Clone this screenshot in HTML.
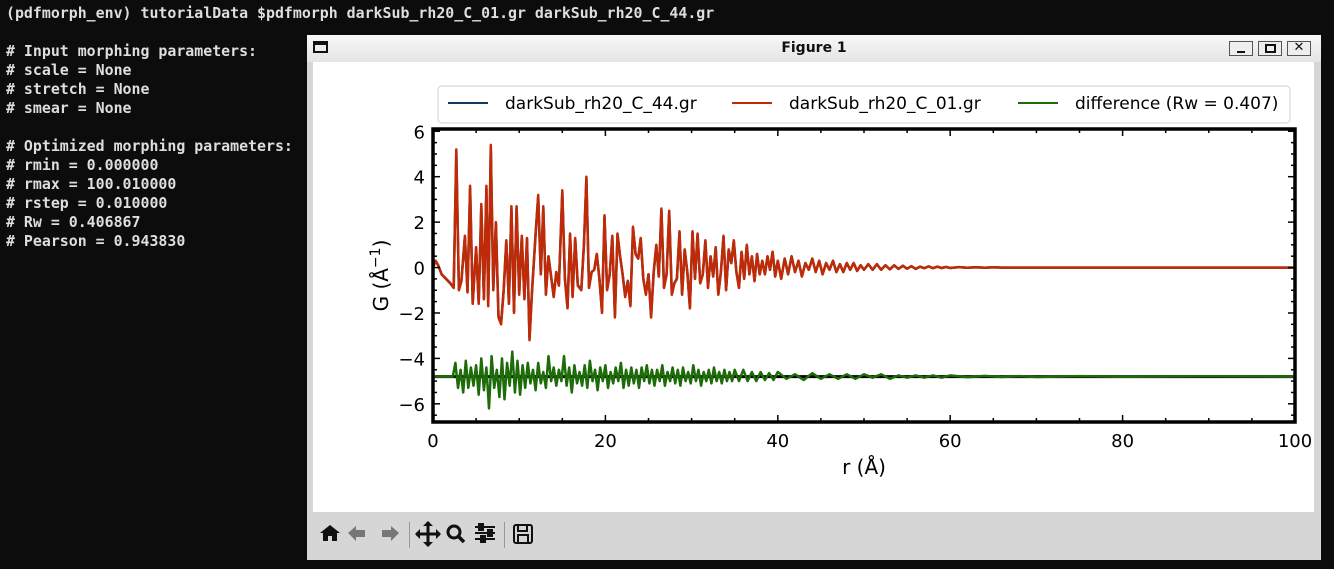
<!DOCTYPE html>
<html><head><meta charset="utf-8">
<style>
html,body{margin:0;padding:0;width:1334px;height:569px;background:#0c0c0c;overflow:hidden;font-family:"DejaVu Sans","Liberation Sans",sans-serif}
#term{position:absolute;left:6px;top:4px;color:#dedede;font:bold 14.9px "DejaVu Sans Mono","Liberation Mono",monospace;line-height:19px;white-space:pre}
#win{position:absolute;left:307px;top:35px;width:1014px;height:525px;background:#d6d6d6}
#title{position:absolute;left:0;top:0;width:1014px;height:27px;background:linear-gradient(#f8f8f8,#e4e4e4);font-weight:bold;font-size:14px;text-align:center;line-height:26px;color:#111}
#fig{position:absolute;left:6px;top:27px;width:1001px;height:450px;background:#fff}
.wb{position:absolute;top:6px;width:24px;height:15px;border:1px solid #555;background:#eee;box-sizing:border-box}
#tb{position:absolute;left:6px;top:477px;height:44px;width:1001px}
</style></head><body>
<div id="term">(pdfmorph_env) tutorialData $pdfmorph darkSub_rh20_C_01.gr darkSub_rh20_C_44.gr

# Input morphing parameters:
# scale = None
# stretch = None
# smear = None

# Optimized morphing parameters:
# rmin = 0.000000
# rmax = 100.010000
# rstep = 0.010000
# Rw = 0.406867
# Pearson = 0.943830</div>
<div id="win">
 <div id="title">Figure 1
  <div style="position:absolute;left:6px;top:6px;width:15px;height:12px;border:2px solid #111;border-top-width:4px;box-sizing:border-box"></div>
  <div class="wb" style="left:922px"><div style="position:absolute;left:7px;top:9px;width:8px;height:2px;background:#111"></div></div>
  <div class="wb" style="left:951px"><div style="position:absolute;left:6px;top:2px;width:11px;height:9px;border:2px solid #111;box-sizing:border-box"></div></div>
  <div class="wb" style="left:980px;font-size:13px;line-height:12px">✕</div>
 </div>
 <div id="fig"></div>
 <div id="tb">
  <svg width="300" height="44" style="position:absolute;left:0;top:0">
   <g><path d="M7 21 L17 13 L27 21 L24 21 L24 29 L19 29 L19 24 L15 24 L15 29 L10 29 L10 21 Z" fill="#111"/></g>
   <g><path d="M35 21 L43 14 L43 18 L52 18 L52 25 L43 25 L43 29 Z" fill="#777"/></g>
   <g><path d="M86 21 L78 14 L78 18 L69 18 L69 25 L78 25 L78 29 Z" fill="#777"/></g>
   <rect x="96" y="10" width="1" height="26" fill="#999"/>
   <g><path d="M115 10 L115 34 M103 22 L127 22" stroke="#111" stroke-width="3"/><path d="M110 14 L115 9 L120 14Z M110 30 L115 35 L120 30Z M107 17 L102 22 L107 27Z M123 17 L128 22 L123 27Z" fill="#111"/></g>
   <g><circle cx="141" cy="20" r="6" fill="none" stroke="#111" stroke-width="3"/><path d="M145 24 L151 30" stroke="#111" stroke-width="3.5"/></g>
   <g stroke="#111" stroke-width="2"><path d="M162 15H182M162 21H182M162 27H182"/><rect x="166" y="12" width="4" height="6" fill="#111"/><rect x="175" y="18" width="4" height="6" fill="#111"/><rect x="168" y="24" width="4" height="6" fill="#111"/></g>
   <rect x="191" y="10" width="1" height="26" fill="#999"/>
   <g><rect x="201" y="13" width="18" height="18" fill="none" stroke="#111" stroke-width="2" rx="2"/><rect x="205" y="13" width="9" height="6" fill="none" stroke="#111" stroke-width="2"/><rect x="205" y="23" width="10" height="8" fill="none" stroke="#111" stroke-width="2"/></g>
  </svg>
 </div>
</div>
<script>
const rVals=[0,0.3,0.6,1.0,1.5,2.0,2.4,2.7,3.0,3.3,3.7,4.0,4.3,4.6,5.0,5.3,5.6,5.9,6.2,6.4,6.7,7.0,7.3,7.6,7.9,8.2,8.5,8.8,9.1,9.4,9.7,10.0,10.3,10.6,10.9,11.2,11.5,11.9,12.2,12.5,12.8,13.1,13.4,13.7,14.0,14.3,14.6,15.0,15.3,15.6,15.9,16.2,16.5,16.8,17.2,17.5,17.8,18.1,18.4,18.7,19.0,19.3,19.6,19.9,20.2,20.5,20.8,21.1,21.4,21.7,22.0,22.3,22.6,22.9,23.2,23.5,23.8,24.1,24.4,24.7,25.0,25.3,25.6,25.9,26.2,26.5,26.8,27.1,27.4,27.7,28.0,28.3,28.6,28.9,29.2,29.5,29.8,30.1,30.4,30.7,31.0,31.3,31.6,31.9,32.2,32.5,32.8,33.1,33.4,33.7,34.0,34.3,34.6,34.9,35.2,35.5,35.8,36.1,36.4,36.7,37.0,37.3,37.6,37.9,38.2,38.5,38.8,39.1,39.4,39.7,40.0,40.4,40.8,41.2,41.6,42.0,42.4,42.8,43.2,43.6,44.0,44.4,44.8,45.2,45.6,46.0,46.4,46.8,47.2,47.6,48.0,48.4,48.8,49.2,49.6,50.0,50.5,51.0,51.5,52.0,52.5,53.0,53.5,54.0,54.5,55.0,55.5,56.0,56.5,57.0,57.5,58.0,58.5,59.0,59.5,60.0,61,62,63,64,65,66,67,68,69,70,72,74,76,78,80,85,90,95,100];
const gRef=[0,0.3,0.1,-0.3,-0.5,-0.7,-0.9,5.2,-1.0,-0.6,1.4,-1.1,3.6,-1.6,0.9,-1.6,2.8,-1.4,3.6,-1.7,5.4,-1.0,2.0,-2.2,-2.5,-1.0,1.2,-1.6,2.7,-2.0,2.7,-1.2,1.4,-1.4,1.3,-3.2,-1.0,1.5,3.2,-0.3,2.7,-1.2,0.5,-0.4,-1.3,-0.2,-0.8,3.4,-0.5,-1.8,1.5,-1.3,1.3,-0.8,-1.0,1.0,4.0,-0.9,-0.2,-0.1,0.6,-0.5,-2.0,2.3,-1.0,-0.3,1.4,-2.2,1.5,0.5,-0.3,-1.3,-0.6,-1.7,1.8,0.6,0.4,1.3,-0.5,-1.2,-0.3,-2.2,-0.2,1.0,-0.4,2.6,-0.9,-0.3,2.5,-1.2,-0.7,-0.5,1.6,-1.2,0.8,-0.2,-1.8,1.6,-0.5,1.5,-0.7,-0.3,1.2,-0.9,0.5,-0.4,0.9,-1.2,-0.2,1.4,-1.0,0.8,0.2,1.2,-0.2,-0.9,0.7,-0.5,1.0,-0.3,0.5,-0.6,0.6,-0.3,0.3,-0.3,0.5,-0.1,0.7,-0.4,0.3,-0.5,0.4,-0.3,0.5,-0.2,0.3,-0.4,0.2,-0.1,0.4,-0.2,0.3,-0.3,0.2,-0.1,0.3,-0.2,0.15,-0.2,0.2,-0.1,0.2,-0.15,0.1,-0.1,0.15,-0.1,0.15,-0.1,0.1,-0.08,0.1,-0.06,0.08,-0.05,0.06,-0.06,0.04,-0.03,0.05,-0.03,0.04,-0.02,0.03,-0.02,0.02,-0.01,0.01,-0.01,0.01,0,0,0,0,0,0,0,0,0,0,0,0,0,0];
const diffR=[0,2.3,2.6,2.9,3.2,3.5,3.8,4.1,4.4,4.7,5.0,5.3,5.6,5.9,6.2,6.5,6.8,7.1,7.4,7.7,8.0,8.3,8.6,8.9,9.2,9.5,9.8,10.1,10.4,10.7,11.0,11.3,11.6,11.9,12.2,12.5,12.8,13.1,13.4,13.7,14.0,14.3,14.6,14.9,15.2,15.5,15.8,16.1,16.4,16.7,17.0,17.3,17.6,17.9,18.2,18.5,18.8,19.1,19.4,19.7,20.0,20.3,20.6,20.9,21.2,21.5,21.8,22.1,22.4,22.7,23.0,23.3,23.6,23.9,24.2,24.5,24.8,25.1,25.4,25.7,26.0,26.3,26.6,26.9,27.2,27.5,27.8,28.1,28.4,28.7,29.0,29.3,29.6,29.9,30.2,30.5,30.8,31.1,31.4,31.7,32.0,32.3,32.6,32.9,33.2,33.5,33.8,34.1,34.4,34.7,35.0,35.5,36,36.5,37,37.5,38,38.5,39,39.5,40,41,42,43,44,45,46,47,48,49,50,51,52,53,54,55,56,57,58,59,60,62,64,66,68,70,75,80,90,100];
const gDiff=[-4.8,-4.8,-4.2,-5.3,-4.5,-5.5,-4.1,-5.3,-4.4,-5.2,-4.3,-5.6,-4.0,-5.4,-4.4,-6.2,-3.9,-5.3,-4.5,-5.7,-4.0,-5.8,-4.2,-5.2,-3.7,-5.5,-4.1,-5.6,-4.3,-5.3,-4.2,-5.1,-4.5,-5.4,-4.2,-5.1,-4.6,-5.3,-3.9,-5.0,-4.4,-5.2,-4.5,-5.0,-3.9,-5.2,-4.4,-5.5,-4.3,-5.1,-4.6,-5.2,-4.3,-5.3,-4.1,-5.0,-4.5,-5.4,-4.4,-5.0,-4.3,-5.3,-4.6,-5.1,-4.4,-5.0,-4.2,-5.3,-4.5,-5.2,-4.4,-5.1,-4.5,-5.3,-4.4,-5.0,-4.3,-5.1,-4.5,-5.2,-4.5,-5.0,-4.3,-5.2,-4.6,-5.0,-4.4,-5.1,-4.5,-5.2,-4.4,-5.0,-4.6,-5.1,-4.3,-5.0,-4.5,-5.2,-4.6,-5.0,-4.5,-5.1,-4.4,-5.0,-4.6,-5.1,-4.5,-5.0,-4.6,-5.0,-4.5,-5.0,-4.5,-5.0,-4.6,-5.0,-4.6,-4.95,-4.65,-4.95,-4.6,-4.9,-4.7,-4.95,-4.65,-4.9,-4.7,-4.9,-4.7,-4.9,-4.7,-4.85,-4.7,-4.9,-4.75,-4.85,-4.75,-4.85,-4.75,-4.85,-4.75,-4.83,-4.77,-4.82,-4.78,-4.82,-4.78,-4.81,-4.79,-4.8,-4.8,-4.8,-4.8];
const xTicks=[0,20,40,60,80,100];
const yTicks=[6,4,2,0,-2,-4,-6];
const legendLabels=["darkSub_rh20_C_44.gr","darkSub_rh20_C_01.gr","difference (Rw = 0.407)"];
const legendColors=["#12395f","#c02a06","#1e6b0a"];
const baseline=-4.8;

const NS="http://www.w3.org/2000/svg";
const fig=document.getElementById('fig');
const svg=document.createElementNS(NS,'svg');
svg.setAttribute('width','1001');svg.setAttribute('height','450');


fig.appendChild(svg);
const L=433-313, R=1295-313, T=129-62, B=422-62;
const xmin=0,xmax=100,ymin=-6.8,ymax=6.1;
const sx=v=>L+(v-xmin)/(xmax-xmin)*(R-L);
const sy=v=>B-(v-ymin)/(ymax-ymin)*(B-T);
function mk(tag,attrs){const e=document.createElementNS(NS,tag);for(const k in attrs)e.setAttribute(k,attrs[k]);svg.appendChild(e);return e;}
function line(xs,ys,color,w){const n=Math.min(xs.length,ys.length);let d='';for(let i=0;i<n;i++)d+=(i?'L':'M')+sx(xs[i]).toFixed(1)+' '+sy(ys[i]).toFixed(1);return mk('path',{d:d,fill:'none',stroke:color,'stroke-width':w,'stroke-linejoin':'round'});}
let e;
e=mk('line',{x1:L,x2:R,y1:sy(baseline),y2:sy(baseline),stroke:'#000','stroke-width':3});


e=line(rVals,gRef.map(v=>v*0.97),legendColors[0],2.5);


e=line(rVals,gRef,legendColors[1],2.5);


e=line(diffR,gDiff,legendColors[2],2.5);


e=mk('rect',{x:L,y:T,width:R-L,height:B-T,fill:'none',stroke:'#000','stroke-width':3.5});


for(let v=0;v<=100;v+=5){const x=sx(v),len=v%20===0?7:4;mk('line',{x1:x,x2:x,y1:B,y2:B-len,stroke:'#000','stroke-width':1.5});mk('line',{x1:x,x2:x,y1:T,y2:T+len,stroke:'#000','stroke-width':1.5});}
for(let v=-6.5;v<=6;v+=0.5){const y=sy(v),len=Math.abs(v%2)<1e-9?7:4;mk('line',{x1:L,x2:L+len,y1:y,y2:y,stroke:'#000','stroke-width':1.5});mk('line',{x1:R,x2:R-len,y1:y,y2:y,stroke:'#000','stroke-width':1.5});}
xTicks.forEach(v=>{const t=mk('text',{x:sx(v),y:B+25,'text-anchor':'middle','font-size':18,fill:'#000'});t.textContent=v;

});
yTicks.forEach(v=>{const t=mk('text',{x:L-8,y:sy(v)+7,'text-anchor':'end','font-size':18,fill:'#000'});t.textContent=v<0?'−'+(-v):v;

});
e=mk('text',{x:(L+R)/2,y:B+52,'text-anchor':'middle','font-size':20});e.textContent='r (Å)';


e=mk('text',{x:0,y:0,'text-anchor':'middle','font-size':20,transform:`translate(${L-45},${(T+B)/2}) rotate(-90)`});
e.innerHTML='G (Å<tspan dy="-8" font-size="14">−1</tspan><tspan dy="8">)</tspan>';


e=mk('rect',{x:438-313,y:86-62,width:852,height:37,rx:4,fill:'#fff',stroke:'#d0d0d0'});


const lx=[135,419,705];
legendLabels.forEach((lab,i)=>{
 const g=document.createElementNS(NS,'g');svg.appendChild(g);
 
 
 const l=document.createElementNS(NS,'line');l.setAttribute('x1',lx[i]);l.setAttribute('x2',lx[i]+40);l.setAttribute('y1',41);l.setAttribute('y2',41);l.setAttribute('stroke',legendColors[i]);l.setAttribute('stroke-width',2);g.appendChild(l);
 const t=document.createElementNS(NS,'text');t.setAttribute('x',lx[i]+57);t.setAttribute('y',47);t.setAttribute('font-size',17);t.textContent=lab;g.appendChild(t);
});
</script>
</body></html>
